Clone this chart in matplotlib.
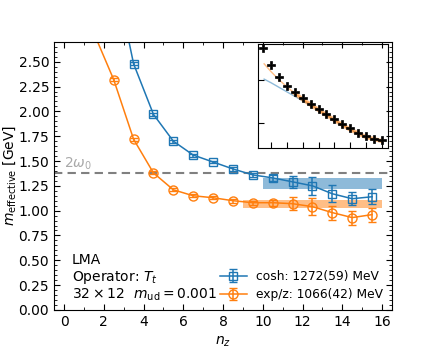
import matplotlib
matplotlib.use("Agg")
import matplotlib.pyplot as plt
from matplotlib.ticker import MultipleLocator, NullLocator, FixedLocator, NullFormatter

# main panel: effective mass vs n_z
nz_cosh = [2.5, 3.5, 4.5, 5.5, 6.5, 7.5, 8.5, 9.5, 10.5, 11.5, 12.5, 13.5, 14.5, 15.5]
m_cosh = [3.44, 2.48, 1.97, 1.70, 1.56, 1.49, 1.42, 1.36, 1.33, 1.29, 1.25, 1.17, 1.12, 1.14]
e_cosh = [0.02, 0.015, 0.015, 0.015, 0.015, 0.015, 0.02, 0.02, 0.03, 0.06, 0.09, 0.085, 0.065, 0.075]

nz_exp = [1.5, 2.5, 3.5, 4.5, 5.5, 6.5, 7.5, 8.5, 9.5, 10.5, 11.5, 12.5, 13.5, 14.5, 15.5]
m_exp = [2.79, 2.32, 1.72, 1.38, 1.21, 1.15, 1.13, 1.10, 1.08, 1.08, 1.07, 1.04, 0.98, 0.93, 0.96]
e_exp = [0.02, 0.015, 0.015, 0.015, 0.015, 0.015, 0.015, 0.02, 0.02, 0.03, 0.065, 0.085, 0.07, 0.07, 0.07]

fit_cosh = (1.272, 0.059, 10, 16)
fit_exp = (1.066, 0.042, 9, 16)
two_omega0 = 1.38

# inset: correlator
n_corr = list(range(1, 17))
corr = [5.40e-2, 2.22e-2, 1.15e-2, 7.38e-3, 5.20e-3, 3.78e-3, 2.79e-3, 2.14e-3,
        1.61e-3, 1.26e-3, 9.8e-4, 7.67e-4, 6.07e-4, 5.09e-4, 4.41e-4, 4.11e-4]
n_fexp = [1.1, 2, 3, 4, 5, 6, 8, 10, 12, 14, 16]
c_fexp = [2.34e-2, 1.53e-2, 1.0e-2, 6.89e-3, 4.88e-3, 3.55e-3, 2.03e-3, 1.19e-3, 7.19e-4, 4.83e-4, 3.90e-4]
n_fcosh = [1.1, 2, 3, 4, 5, 6, 7, 8, 10, 12, 14, 16]
c_fcosh = [1.04e-2, 8.53e-3, 6.71e-3, 5.28e-3, 4.16e-3, 3.27e-3, 2.65e-3, 2.08e-3, 1.19e-3, 7.19e-4, 4.83e-4, 3.90e-4]

plt.rcParams['font.size'] = 10

fig = plt.figure(figsize=(4.36, 3.49), dpi=100)
ax = fig.add_axes([0.124, 0.112, 0.775, 0.768])

ax.axhline(two_omega0, color='gray', ls='--', lw=1.5, dashes=(4, 2.5), zorder=1)
ax.text(0.0, two_omega0 + 0.012, r'$2\omega_0$', color='darkgray', fontsize=10, va='bottom', ha='left')

m, e, x0, x1 = fit_cosh
ax.fill_between([x0, x1], m - e, m + e, color='C0', alpha=0.5, lw=0)
m, e, x0, x1 = fit_exp
ax.fill_between([x0, x1], m - e, m + e, color='C1', alpha=0.5, lw=0)

ax.errorbar(nz_cosh, m_cosh, yerr=e_cosh, fmt='-s', color='C0', mfc='none', ms=6,
            capsize=3, lw=1.1, label='cosh: 1272(59) MeV')
ax.errorbar(nz_exp, m_exp, yerr=e_exp, fmt='-o', color='C1', mfc='none', ms=6.5,
            capsize=3, lw=1.1, label='exp/z: 1066(42) MeV')

ax.set_xlim(-0.5, 16.5)
ax.set_ylim(0, 2.7)
ax.xaxis.set_major_locator(MultipleLocator(2))
ax.xaxis.set_minor_locator(MultipleLocator(1))
ax.yaxis.set_major_locator(MultipleLocator(0.25))
ax.yaxis.set_minor_locator(MultipleLocator(0.05))
ax.yaxis.set_major_formatter(matplotlib.ticker.FormatStrFormatter('%.2f'))
ax.tick_params(which='both', direction='in', top=True, right=True)
ax.tick_params(which='major', length=4)
ax.tick_params(which='minor', length=2)
ax.set_xlabel(r'$n_z$')
ax.set_ylabel(r'$m_{\rm effective}$ [GeV]', labelpad=0)

ax.text(0.052, 0.187, 'LMA', transform=ax.transAxes, va='center')
ax.text(0.052, 0.122, r'Operator: $T_t$', transform=ax.transAxes, va='center')
ax.text(0.052, 0.056, r'$32\times12\ \ m_{\rm ud}=0.001$', transform=ax.transAxes, va='center')

ax.legend(loc='lower right', frameon=False, fontsize=8.8, handlelength=2.2,
          borderaxespad=0.3, labelspacing=0.45)

# inset
ins = ax.inset_axes([0.603, 0.603, 0.385, 0.388])
ins.set_facecolor('none')
ins.plot(n_fcosh, c_fcosh, color='C0', lw=1, alpha=0.5)
ins.plot(n_fexp, c_fexp, color='C1', lw=1, alpha=0.5)
ins.plot(n_fexp[4:], c_fexp[4:], color='C1', lw=3, alpha=0.5)
ins.plot(n_corr, corr, 'P', color='k', ms=5.5, mew=0.5)
ins.set_yscale('log')
ins.set_xlim(0.3, 16.8)
ins.set_ylim(2.65e-4, 6.6e-2)
ins.xaxis.set_major_locator(FixedLocator(range(2, 17, 2)))
ins.yaxis.set_major_locator(FixedLocator([1e-3, 1e-2]))
ins.yaxis.set_minor_locator(NullLocator())
ins.xaxis.set_major_formatter(NullFormatter())
ins.yaxis.set_major_formatter(NullFormatter())
ins.yaxis.set_minor_formatter(NullFormatter())
ins.tick_params(which='both', direction='in', length=4, top=False, right=False)

fig.savefig('out.png', dpi=100)
